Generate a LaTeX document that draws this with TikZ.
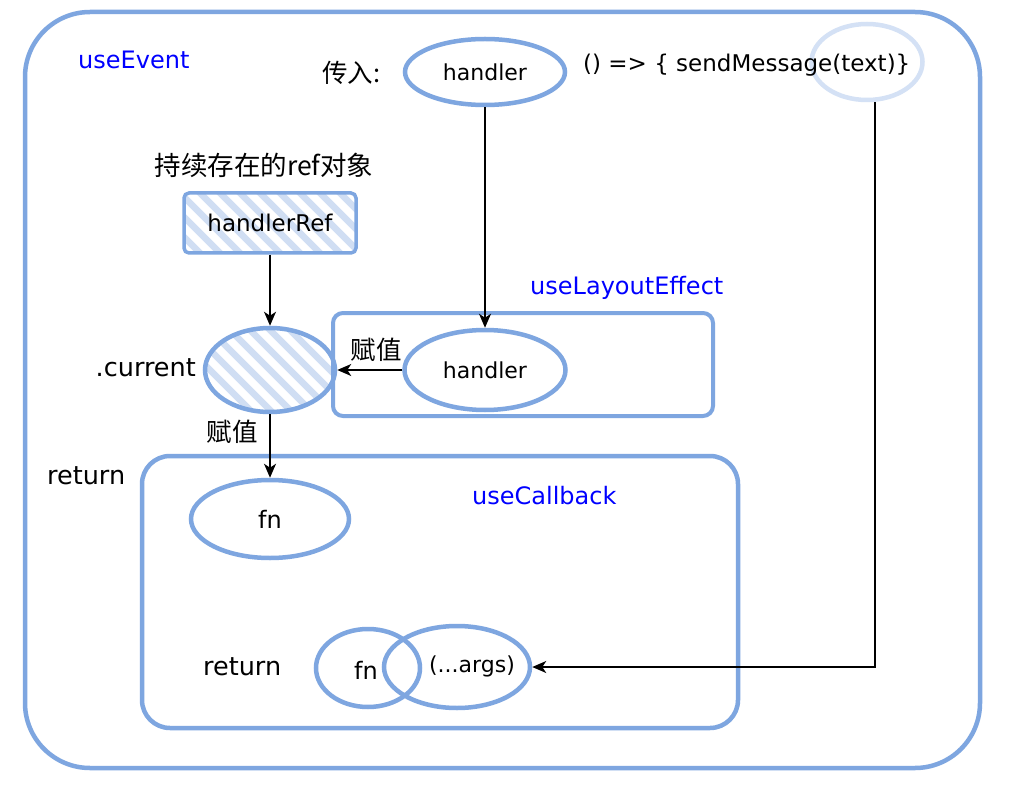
\documentclass[tikz,border=0pt]{standalone}
\usepackage{fontspec}
\setmainfont{DejaVu Sans}
\newfontfamily\cjk{Noto Sans CJK SC}
\usetikzlibrary{shapes.geometric,arrows.meta,calc}
\definecolor{edge}{HTML}{7EA6E0}
\definecolor{lightedge}{HTML}{D4E1F5}
\definecolor{hatchc}{HTML}{D0DEF3}
\definecolor{hookblue}{HTML}{0000FF}
\tikzset{
  txt/.style={font=\fontsize{22}{26}\selectfont, inner sep=0pt},
  bigtxt/.style={font=\fontsize{25.5}{28}\selectfont, inner sep=0pt},
  cjktxt/.style={font=\cjk\fontsize{25.5}{28}\selectfont, inner sep=0pt},
  hook/.style={font=\fontsize{24}{28}\selectfont, inner sep=0pt, text=hookblue},
  ell/.style={ellipse, draw=edge, line width=4.5pt, inner sep=0pt, font=\fontsize{22}{26}\selectfont},
  box/.style={draw=edge, line width=4pt, inner sep=0pt},
  hatched/.style={path picture={
    \foreach \i in {-260,-240,...,260}
      \draw[hatchc, line width=6.5pt] ($(path picture bounding box.center)+(\i-130,-130)$) -- ++(260,260);
  }},
  conn/.style={draw=black, line width=1.5pt},
  arr/.style={conn, -{Stealth[length=14pt,width=12pt,inset=4pt]}}
}
\begin{document}
\begin{tikzpicture}[x=1pt,y=-1pt]
\useasboundingbox (0,0) rectangle (1009,786);
\fill[white] (0,0) rectangle (1009,786);

% outer useEvent frame
\node[box, line width=4.5pt, rounded corners=65pt, minimum width=955pt, minimum height=756pt] (outer) at (502.5,390) {};
\node[hook, anchor=west] (lblEvent) at (78,60) {useEvent};

% top row
\node[cjktxt, anchor=west] (lblIn) at (322,73) {传入:};
\node[ell, minimum width=160pt, minimum height=66pt] (h1) at (485,72) {handler};
\node[ellipse, draw=lightedge, line width=4.5pt, minimum width=111pt, minimum height=76pt] (txtell) at (867,62) {};
\node[font=\fontsize{23}{26}\selectfont, inner sep=0pt, anchor=west] (lambda) at (583,65) {() => \{ sendMessage(text)\}};

% handlerRef
\node[cjktxt, font=\cjk\fontsize{26.5}{28}\selectfont] (lblRef) at (264,165) {持续存在的ref对象};
\node[box, line width=3.5pt, rounded corners=5pt, hatched, minimum width=172pt, minimum height=60pt, font=\fontsize{23}{26}\selectfont] (ref) at (270,223) {handlerRef};

% .current
\node[ell, hatched, minimum width=130pt, minimum height=84pt] (cur) at (270,370) {};
\node[bigtxt, anchor=east] (lblCur) at (196,368) {.current};

% useLayoutEffect
\node[box, rounded corners=10pt, minimum width=380pt, minimum height=103pt] (ule) at (523,364.5) {};
\node[hook, anchor=west] (lblULE) at (530,288) {useLayoutEffect};
\node[ell, minimum width=161pt, minimum height=80pt] (h2) at (485,370) {handler};

% useCallback
\node[box, line width=4.5pt, rounded corners=28pt, minimum width=596pt, minimum height=272pt] (ucb) at (440,592) {};
\node[hook, anchor=west] (lblUCB) at (472,496) {useCallback};
\node[bigtxt, anchor=west] (lblRet1) at (47,476) {return};
\node[ell, minimum width=158pt, minimum height=78pt, font=\fontsize{24}{26}\selectfont] (fn1) at (270,519) {fn};
\node[bigtxt, anchor=west] (lblRet2) at (203,667) {return};
\node[ell, minimum width=104pt, minimum height=78pt] (fn2) at (368,668) {};
\node[ell, minimum width=146pt, minimum height=82pt] (args) at (457,667) {};
\node[font=\fontsize{24}{26}\selectfont, inner sep=0pt] (fnTxt) at (366,670) {fn};
\node[txt] (argsTxt) at (472,666) {(...args)};

% connectors
\draw[arr] (h1.south) -- (h2.north);
\draw[arr] (ref.south) -- (cur.north);
\draw[arr] (h2.west) -- (cur.east);
\node[cjktxt] (lblAssign1) at (376,350) {赋值};
\draw[arr] (cur.south) -- (fn1.north);
\node[cjktxt] (lblAssign2) at (232,432) {赋值};
\draw[arr] ([xshift=8pt]txtell.south) |- (args.east);
\end{tikzpicture}
\end{document}
